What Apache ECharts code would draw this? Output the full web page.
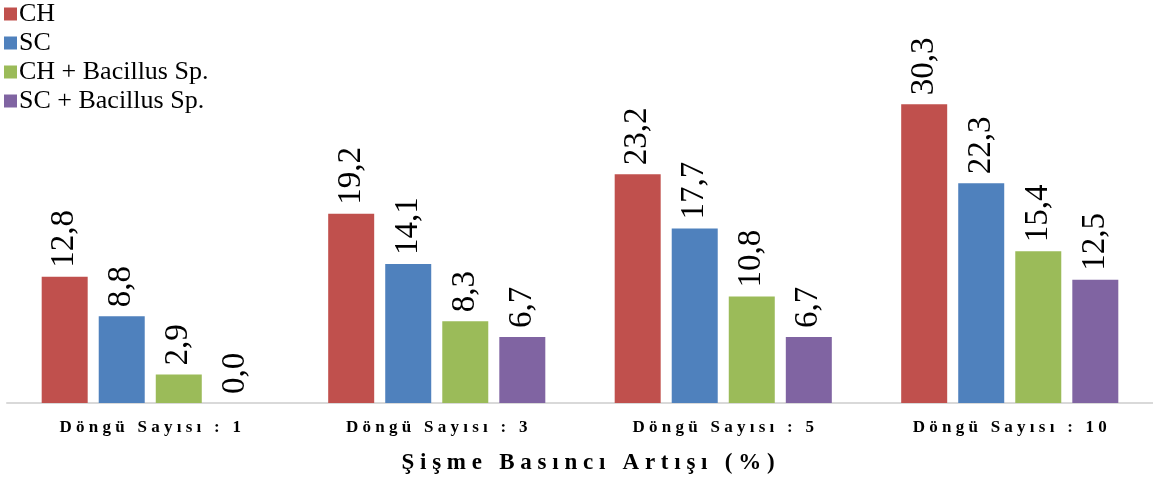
<!DOCTYPE html>
<html>
<head>
<meta charset="utf-8">
<script src="https://cdn.jsdelivr.net/npm/echarts@6/dist/echarts.min.js"></script>
<style>
	html, body { margin: 0; padding: 0; background: #fff; }
	#chart { width: 1153px; height: 481px; }
</style>
</head>
<body>
<div id="chart"></div>
<script>
var categories = ['Döngü Sayısı : 1', 'Döngü Sayısı : 3', 'Döngü Sayısı : 5', 'Döngü Sayısı : 10'];
var seriesNames = ['CH', 'SC', 'CH + Bacillus Sp.', 'SC + Bacillus Sp.'];
var chValues = [12.8, 19.2, 23.2, 30.3];
var scValues = [8.8, 14.1, 17.7, 22.3];
var chBacValues = [2.9, 8.3, 10.8, 15.4];
var scBacValues = [0.0, 6.7, 6.7, 12.5];
var colors = ['#C0504D', '#4F81BD', '#9BBB59', '#8064A2'];
var axisTitle = 'Şişme Basıncı Artışı (%)';

// spread letters out, like the wide letter spacing of the original
function spaced(s) {
	return s.split(' ').map(function (w) {
		return w.split('').join(' ');
	}).join('   ');
}

function makeSeries(name, data, color) {
	return {
		name: name,
		type: 'bar',
		data: data,
		barWidth: 46,
		barGap: '24%',
		itemStyle: { color: color },
		label: {
			show: true,
			position: 'top',
			rotate: 90,
			align: 'left',
			verticalAlign: 'middle',
			distance: 9,
			fontFamily: 'Liberation Serif',
			fontSize: 33,
			color: '#000',
			formatter: function (p) {
				return p.value.toFixed(1).replace('.', ',');
			}
		}
	};
}

var myChart = echarts.init(document.getElementById('chart'));
myChart.setOption({
	animation: false,
	color: colors,
	legend: {
		orient: 'vertical',
		left: 4,
		top: 1,
		padding: 0,
		itemWidth: 13,
		itemHeight: 13,
		itemGap: 3,
		icon: 'rect',
		textStyle: {
			fontFamily: 'Liberation Serif',
			fontSize: 26,
			lineHeight: 26,
			color: '#000',
			padding: [0, 0, 0, -3]
		},
		data: seriesNames
	},
	grid: {
		left: 7,
		right: 0,
		top: 58,
		bottom: 78,
		outerBoundsMode: 'none'
	},
	xAxis: {
		type: 'category',
		data: categories,
		axisLine: { lineStyle: { color: '#d9d9d9', width: 2 } },
		axisTick: { show: false },
		axisLabel: {
			margin: 16,
			fontFamily: 'Liberation Serif',
			fontWeight: 'bold',
			fontSize: 17,
			color: '#000',
			formatter: function (v) { return spaced(v); }
		},
		name: spaced(axisTitle),
		nameLocation: 'middle',
		nameGap: 49,
		nameTextStyle: {
			fontFamily: 'Liberation Serif',
			fontWeight: 'bold',
			fontSize: 23,
			color: '#000',
			padding: [0, 0, 0, 16]
		}
	},
	yAxis: {
		type: 'value',
		min: 0,
		max: 35,
		show: false
	},
	series: [
		makeSeries(seriesNames[0], chValues, colors[0]),
		makeSeries(seriesNames[1], scValues, colors[1]),
		makeSeries(seriesNames[2], chBacValues, colors[2]),
		makeSeries(seriesNames[3], scBacValues, colors[3])
	]
});
</script>
</body>
</html>
